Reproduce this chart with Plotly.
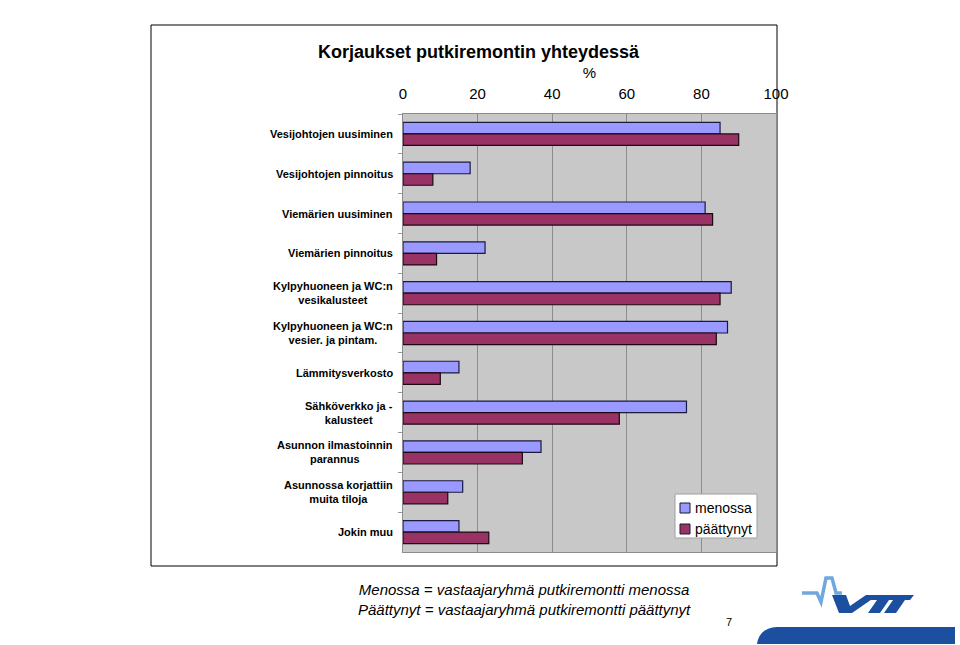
import plotly.graph_objects as go

categories = [
    "Vesijohtojen uusiminen",
    "Vesijohtojen pinnoitus",
    "Viemärien uusiminen",
    "Viemärien pinnoitus",
    "Kylpyhuoneen ja WC:n<br>vesikalusteet",
    "Kylpyhuoneen ja WC:n<br>vesier. ja pintam.",
    "Lämmitysverkosto",
    "Sähköverkko ja -<br>kalusteet",
    "Asunnon ilmastoinnin<br>parannus",
    "Asunnossa korjattiin<br>muita tiloja",
    "Jokin muu",
]
menossa = [85, 18, 81, 22, 88, 87, 15, 76, 37, 16, 15]
paattynyt = [90, 8, 83, 9, 85, 84, 10, 58, 32, 12, 23]
x_ticks = [0, 20, 40, 60, 80, 100]
series_names = ["menossa", "päättynyt"]
series_colors = ["#9999FF", "#993366"]

FONT = "Liberation Sans, Arial, sans-serif"
LOGO = "#1d4fa0"


def px(x):
    return (x - 403) / 373


def py(y):
    return (552 - y) / 438


fig = go.Figure()
fig.add_trace(go.Bar(
    y=categories, x=menossa, orientation="h", name=series_names[0],
    marker=dict(color=series_colors[0], line=dict(color="#1a1a40", width=1.2)),
))
fig.add_trace(go.Bar(
    y=categories, x=paattynyt, orientation="h", name=series_names[1],
    marker=dict(color=series_colors[1], line=dict(color="#1a0a10", width=1.2)),
))

annotations = []
for c in categories:
    annotations.append(dict(
        x=-0.022, xref="paper", y=c, yref="y", text="<b>%s</b>" % c,
        xanchor="right", yanchor="middle", align="center", showarrow=False,
        font=dict(family=FONT, size=11, color="black"),
    ))

annotations += [
    dict(x=0.5, xref="paper", y=py(52), yref="paper",
         text="<b>Korjaukset putkiremontin yhteydessä</b>", showarrow=False,
         xanchor="center", yanchor="middle", font=dict(family=FONT, size=18, color="black"),
         xshift=-111),
    dict(x=px(524), xref="paper", y=py(599), yref="paper",
         text="<i>Menossa = vastaajaryhmä putkiremontti menossa<br>Päättynyt = vastaajaryhmä putkiremontti päättynyt</i>",
         showarrow=False, xanchor="center", yanchor="middle", align="center",
         font=dict(family=FONT, size=15, color="black")),
    dict(x=px(729), xref="paper", y=py(622), yref="paper",
         text="7", showarrow=False, xanchor="center", yanchor="middle",
         font=dict(family=FONT, size=11, color="black")),
]

# custom legend
leg_rows = [508, 529]
for name, color, yy in zip(series_names, series_colors, leg_rows):
    annotations.append(dict(
        x=px(693), xref="paper", y=py(yy), yref="paper", text=name,
        showarrow=False, xanchor="left", yanchor="middle",
        font=dict(family=FONT, size=14, color="black"),
    ))

shapes = [
    dict(type="rect", xref="paper", yref="paper",
         x0=px(151), x1=px(777), y0=py(566), y1=py(25),
         line=dict(color="black", width=1), fillcolor="rgba(0,0,0,0)", layer="below"),
    dict(type="rect", xref="paper", yref="paper",
         x0=px(675), x1=px(757), y0=py(538), y1=py(494),
         line=dict(color="#a0a0a0", width=1), fillcolor="white", layer="above"),
]
for color, yy in zip(series_colors, leg_rows):
    shapes.append(dict(type="rect", xref="paper", yref="paper",
                       x0=px(680), x1=px(690), y0=py(yy + 5), y1=py(yy - 5),
                       line=dict(color="#1a1a30", width=1), fillcolor=color, layer="above"))


def poly(pts):
    return "M " + " L ".join("%f %f" % (px(a), py(b)) for a, b in pts) + " Z"


# VTT logo
shapes += [
    dict(type="path", xref="paper", yref="paper",
         path="M %f %f L %f %f L %f %f L %f %f Q %f %f %f %f Z" % (
             px(757), py(644), px(955), py(644), px(955), py(627),
             px(777), py(627), px(759), py(628), px(757), py(644)),
         fillcolor=LOGO, line=dict(width=0)),
    dict(type="path", xref="paper", yref="paper",
         path="M %f %f L %f %f L %f %f L %f %f L %f %f L %f %f L %f %f" % (
             px(802), py(593), px(817), py(593), px(821), py(602), px(826), py(578),
             px(832), py(578), px(836), py(593), px(842), py(593)),
         line=dict(color="#6fa8dc", width=3.5)),
    dict(type="path", xref="paper", yref="paper",
         path=poly([(832, 595), (846, 595), (850, 606), (866, 595), (878, 595),
                    (852, 613), (839, 613)]),
         fillcolor=LOGO, line=dict(width=0)),
    dict(type="path", xref="paper", yref="paper",
         path=poly([(869, 595), (900, 595), (896, 600), (889, 600), (880, 613),
                    (868, 613), (877, 600), (865, 600)]),
         fillcolor=LOGO, line=dict(width=0)),
    dict(type="path", xref="paper", yref="paper",
         path=poly([(892, 595), (914, 595), (910, 600), (905, 600), (896, 613),
                    (884, 613), (893, 600), (889, 600)]),
         fillcolor=LOGO, line=dict(width=0)),
]

fig.update_layout(
    width=960, height=645,
    margin=dict(l=403, r=184, t=114, b=93),
    paper_bgcolor="white",
    plot_bgcolor="#C8C8C8",
    barmode="group",
    bargap=0.42,
    bargroupgap=0,
    showlegend=False,
    xaxis=dict(
        side="top", range=[0, 100], tickvals=x_ticks,
        ticktext=[str(v) for v in x_ticks],
        tickfont=dict(family=FONT, size=15, color="black"),
        showgrid=True, gridcolor="#8c8c8c", gridwidth=1,
        showline=True, linecolor="#8c8c8c", mirror=True,
        ticks="outside", ticklen=8, tickcolor="rgba(255,255,255,0)", zeroline=False,
        title=dict(text="%", font=dict(family=FONT, size=15, color="black"), standoff=2),
        fixedrange=True,
    ),
    yaxis=dict(
        autorange="reversed", showticklabels=False,
        ticks="outside", tickson="boundaries", ticklen=4, tickcolor="#999999",
        showline=True, linecolor="#8c8c8c", mirror=True,
        showgrid=False, zeroline=False,
    ),
    annotations=annotations,
    shapes=shapes,
    font=dict(family=FONT),
)

fig.write_html("out.html")
